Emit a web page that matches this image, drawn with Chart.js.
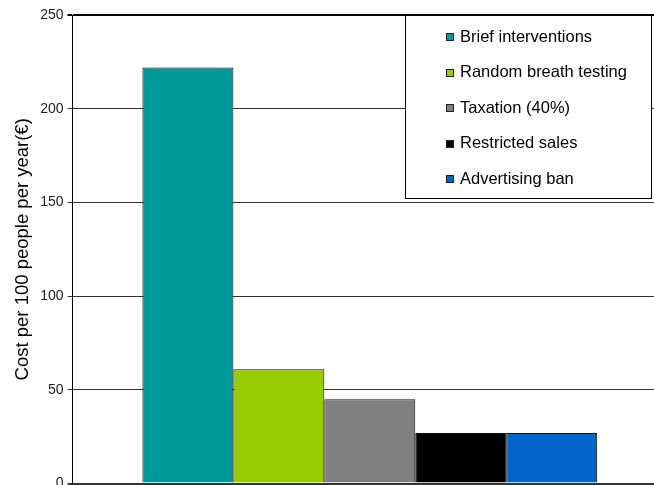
<!DOCTYPE html>
<html>
<head>
<meta charset="utf-8">
<script src="https://cdn.jsdelivr.net/npm/chart.js@4/dist/chart.umd.min.js"></script>
<style>
  html, body { margin: 0; padding: 0; background: #fff; overflow: hidden; }
  #wrap { position: absolute; left: 0; top: 0; width: 667px; height: 496px; }
</style>
</head>
<body>
<div id="wrap"><canvas id="myChart"></canvas></div>
<script>
// data
var categories = [''];
var seriesNames = ['Brief interventions', 'Random breath testing', 'Taxation (40%)', 'Restricted sales', 'Advertising ban'];
var seriesValues = [222, 61, 45, 27, 27];
var seriesColors = ['#009999', '#99CC00', '#808080', '#000000', '#0066CC'];
var yTicks = [0, 50, 100, 150, 200, 250];

var datasets = seriesNames.map(function(name, i){
    return {
        label: name,
        data: [seriesValues[i]],
        backgroundColor: seriesColors[i],
        borderColor: '#111',
        borderWidth: 1,
        barPercentage: 1.0,
        categoryPercentage: 0.765
    };
});

// legend box drawn inside the plot, like the original
var boxLegend = {
    id: 'boxLegend',
    afterDraw: function(chart){
        var ctx = chart.ctx;
        var a = chart.chartArea;
        var x0 = 405, y0 = a.top, w = 246, h = 183;
        ctx.save();
        ctx.fillStyle = '#fff';
        ctx.fillRect(x0, y0, w, h);
        ctx.strokeStyle = '#000';
        ctx.lineWidth = 1;
        ctx.strokeRect(x0 + 0.5, y0 + 0.5, w, h);
        ctx.font = '16.5px "Liberation Sans", Arial, sans-serif';
        ctx.textBaseline = 'middle';
        chart.data.datasets.forEach(function(ds, i){
            var cy = y0 + 22 + i * 35.6;
            ctx.fillStyle = ds.backgroundColor;
            ctx.fillRect(446, Math.round(cy) - 4, 8, 8);
            ctx.strokeStyle = '#222';
            ctx.strokeRect(446.5, Math.round(cy) - 3.5, 7, 7);
            ctx.fillStyle = '#000';
            ctx.fillText(ds.label, 460, cy);
        });
        ctx.restore();
    }
};

var ctx = document.getElementById('myChart').getContext('2d');
var chart = new Chart(ctx, {
    type: 'bar',
    data: { labels: categories, datasets: datasets },
    options: {
        responsive: true,
        maintainAspectRatio: false,
        animation: false,
        layout: { padding: { left: 12, top: 15, right: 0, bottom: 0 } },
        plugins: {
            legend: { display: false },
            tooltip: { enabled: false }
        },
        scales: {
            x: {
                display: false
            },
            y: {
                min: 0,
                max: 250,
                afterBuildTicks: function(scale){
                    scale.ticks = yTicks.map(function(v){ return { value: v }; });
                },
                border: { display: true, color: '#000', width: 1 },
                grid: {
                    color: function(c){ return c.tick && c.tick.value === 250 ? '#000' : '#333'; },
                    lineWidth: function(c){ return c.tick && (c.tick.value === 250 || c.tick.value === 0) ? 2 : 1; },
                    drawTicks: true,
                    tickLength: 5
                },
                ticks: {
                    color: '#222',
                    padding: 4,
                    font: { family: '"Liberation Sans", Arial, sans-serif', size: 14 }
                },
                title: {
                    display: true,
                    text: 'Cost per 100 people per year(€)',
                    color: '#000',
                    padding: { top: 0, bottom: 2 },
                    font: { family: '"Liberation Sans", Arial, sans-serif', size: 18.5 }
                }
            }
        }
    },
    plugins: [boxLegend]
});
</script>
</body>
</html>
